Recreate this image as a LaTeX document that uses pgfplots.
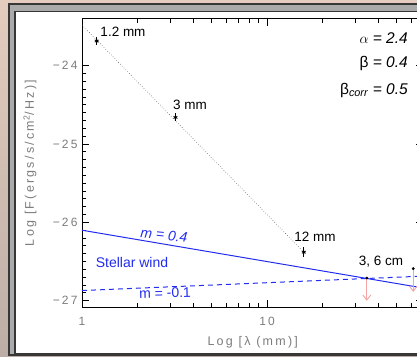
\documentclass[border=0pt]{standalone}
\usepackage{pgfplots}
\pgfplotsset{compat=1.18}
\usepackage{fontspec}
\setmainfont{Liberation Sans}
\newfontfamily\lblfont[LetterSpace=18]{Liberation Sans}
\usetikzlibrary{arrows.meta}
\definecolor{tickgray}{RGB}{125,125,125}
\definecolor{wblue}{RGB}{35,45,240}
\definecolor{limpink}{RGB}{245,165,165}
\definecolor{bgtop}{RGB}{228,204,190}
\definecolor{bgbot}{RGB}{188,174,166}
\definecolor{framegray}{RGB}{170,170,170}
\definecolor{framedark}{RGB}{55,55,55}
\begin{document}
\begin{tikzpicture}[x=1pt,y=1pt]
\useasboundingbox (0,0) rectangle (417,356);
\begin{scope}
\clip (0,0) rectangle (417,356);
\shade[top color=bgtop, bottom color=bgbot] (0,0) rectangle (417,356);
\filldraw[fill=framegray, draw=framedark, line width=2pt] (9,1) rectangle (440,352);
\filldraw[fill=white, draw=framedark, line width=1.5pt] (15,2.5) rectangle (440,344.5);
\end{scope}
\begin{axis}[
  at={(82pt,49pt)}, anchor=south west, scale only axis,
  width=341.4pt, height=288pt,
  xmode=log, xmin=1, xmax=70, ymin=-27.08, ymax=-23.404,
  log ticks with fixed point,
  xtick={1,10}, xticklabels={1,10},
  minor xtick={2,3,4,5,6,7,8,9,20,30,40,50,60},
  ytick={-27,-26,-25,-24}, yticklabels={−27,−26,−25,−24},
  minor y tick num=9,
  tick align=inside,
  major tick length=7pt, minor tick length=4pt,
  tick style={black, line width=0.8pt},
  axis line style={black, line width=1pt},
  tick label style={font=\lblfont\fontsize{12}{12}\selectfont, text=tickgray},
  xticklabel style={yshift=-7pt},
  yticklabel style={xshift=-1pt},
  xlabel={Log [λ (mm)]},
  ylabel={Log [F(ergs/s/cm\textsuperscript{2}/Hz)]},
  label style={font=\lblfont\fontsize{12.5}{13}\selectfont, text=tickgray},
  xlabel style={at={(axis description cs:0.5,-0.1215)}, anchor=center},
  ylabel style={at={(axis description cs:-0.1523,0.5)}, anchor=center},
  clip=false,
]
\addplot[dotted, black!60, line width=0.6pt] coordinates {(1,-23.48) (15.8,-26.38)};
\addplot[wblue, line width=1pt] coordinates {(1,-26.1) (70,-26.838)};
\addplot[wblue, line width=1pt, dash pattern=on 5pt off 4pt] coordinates {(1,-26.87) (70,-26.6855)};
\addplot[only marks, mark=asterisk, mark size=2.2pt, black, line width=0.8pt,
  error bars/.cd, y dir=both, y explicit, error mark=none,
  error bar style={black, line width=0.8pt}]
  coordinates {(1.2,-23.685) +- (0,0.045) (3.2,-24.66) +- (0,0.05) (15.8,-26.38) +- (0,0.065)};
\addplot[limpink, line width=0.9pt, -{Straight Barb[length=5pt,width=8pt]}] coordinates {(34.6,-26.71) (34.6,-27.0)};
\addplot[limpink, line width=0.9pt, -{Straight Barb[length=5pt,width=8pt]}] coordinates {(61.7,-26.59) (61.7,-26.886)};
\addplot[only marks, mark=*, mark size=1.2pt, black] coordinates {(34.6,-26.71) (61.7,-26.59)};
\end{axis}
\begin{scope}[every node/.style={font=\fontsize{13.5}{14}\selectfont, inner sep=0pt}]
\node at (123,324) {1.2 mm};
\node at (190,251) {3 mm};
\node at (315,119) {12 mm};
\node at (381,94) {3, 6 cm};
\node[text=wblue, rotate=-6] at (164,121) {\fontsize{14}{15}\selectfont\textit{m = 0.4}};
\node[text=wblue] at (132,94) {\fontsize{14}{15}\selectfont Stellar wind};
\node[text=wblue, rotate=1.5] at (165,63) {\fontsize{14}{15}\selectfont m = -0.1};
\node[anchor=east] at (408,318) {\fontsize{15.5}{16}\selectfont $\alpha$ \textit{= 2.4}};
\node[anchor=east] at (408,293) {\fontsize{15.5}{16}\selectfont β \textit{= 0.4}};
\node[anchor=east] at (408,266) {\fontsize{15.5}{16}\selectfont β\textsubscript{\textit{corr}} \textit{= 0.5}};
\end{scope}
\end{tikzpicture}
\end{document}
